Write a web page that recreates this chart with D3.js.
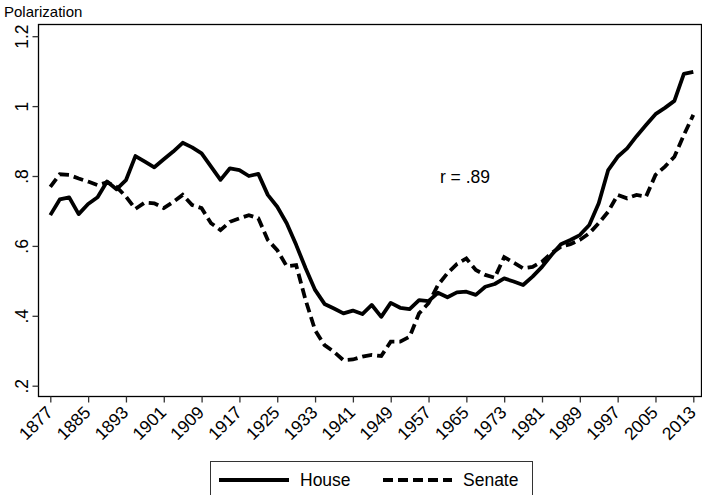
<!DOCTYPE html>
<html>
<head>
<meta charset="utf-8">
<script src="https://cdn.jsdelivr.net/npm/d3@7"></script>
<style>
  body { margin: 0; background: #fff; }
  svg { display: block; }
  svg text { font-family: "Liberation Sans", Arial, sans-serif; }
</style>
</head>
<body>
  <script>
    // congress start years, every two years
    const years = d3.range(1877, 2015, 2);

    const house = [
      .688, .733, .739, .691, .720, .739, .784, .762, .788, .857, .841, .825,
      .848, .870, .895, .882, .865, .827, .789, .822, .817, .800,
      .806, .746, .712, .665, .603, .536, .474, .434, .421, .407,
      .415, .405, .431, .397, .437, .423, .419, .445, .442, .466,
      .453, .467, .469, .460, .483, .491, .507, .498, .488, .512,
      .540, .574, .605, .617, .631, .660, .722, .817, .855, .879,
      .914, .946, .977, .995, 1.015, 1.092, 1.098
    ];

    const senate = [
      .769, .805, .803, .793, .784, .774, .782, .769, .741, .706, .724, .722,
      .708, .726, .746, .717, .708, .665, .645, .669, .679, .688,
      .679, .617, .588, .542, .545, .445, .359, .316, .297, .273,
      .275, .283, .288, .285, .326, .326, .340, .407, .436, .488,
      .522, .548, .564, .531, .517, .509, .568, .552, .536, .540,
      .555, .579, .598, .605, .617, .636, .665, .698, .746, .736,
      .746, .741, .803, .827, .855, .917, .975
    ];

    const xTicks = d3.range(1877, 2014, 8);
    const yTicks = [.2, .4, .6, .8, 1, 1.2];

    const w = 702, h = 495;
    const L = 38.5, R = 701.5, T = 24.5, B = 396.5;

    const svg = d3.select("body").append("svg")
      .attr("width", w)
      .attr("height", h);

    const xScale = d3.scaleLinear().domain([1877, 2013]).range([50.3, 693.3]);
    const yScale = d3.scaleLinear().domain([.2, 1.2]).range([385.7, 36.2]);

    // plot frame
    svg.append("rect")
      .attr("x", L).attr("y", T)
      .attr("width", R - L).attr("height", B - T)
      .attr("fill", "none").attr("stroke", "#000").attr("stroke-width", 1.3);

    // x axis
    const xAxis = svg.append("g")
      .attr("transform", `translate(0,${B})`)
      .call(d3.axisBottom(xScale).tickValues(xTicks).tickFormat(d3.format("d")).tickSize(6));
    xAxis.attr("font-family", null).attr("font-size", null);
    xAxis.select(".domain").remove();
    xAxis.selectAll("line").attr("stroke", "#333").attr("stroke-width", 1.3);
    xAxis.selectAll("text")
      .attr("font-size", 17.5)
      .attr("fill", "#000")
      .attr("text-anchor", "end")
      .attr("x", 0).attr("y", 0).attr("dy", 0)
      .attr("transform", "translate(3,17) rotate(-45)");

    // y axis
    const fmt = d => d === 1 ? "1" : d3.format(".1f")(d).replace(/^0/, "");
    const yAxis = svg.append("g")
      .attr("transform", `translate(${L},0)`)
      .call(d3.axisLeft(yScale).tickValues(yTicks).tickFormat(fmt).tickSize(6));
    yAxis.attr("font-family", null).attr("font-size", null);
    yAxis.select(".domain").remove();
    yAxis.selectAll("line").attr("stroke", "#333").attr("stroke-width", 1.3);
    yAxis.selectAll("text")
      .attr("font-size", 17.5)
      .attr("fill", "#000")
      .attr("text-anchor", "middle")
      .attr("x", 0).attr("dy", 0)
      .attr("transform", "translate(-11,0) rotate(-90)");

    svg.append("text")
      .attr("x", 4).attr("y", 17)
      .attr("font-size", 15)
      .text("Polarization");

    const line = d3.line()
      .x((d, i) => xScale(years[i]))
      .y(d => yScale(d));

    svg.append("path")
      .datum(house)
      .attr("d", line)
      .attr("fill", "none").attr("stroke", "#000")
      .attr("stroke-width", 3.8).attr("stroke-linejoin", "round");

    svg.append("path")
      .datum(senate)
      .attr("d", line)
      .attr("fill", "none").attr("stroke", "#000")
      .attr("stroke-width", 3.8)
      .attr("stroke-dasharray", "10,5");

    svg.append("text")
      .attr("x", xScale(1959.4)).attr("y", yScale(.78))
      .attr("font-size", 17.5)
      .text("r = .89");

    // legend
    const lg = svg.append("g");
    lg.append("rect")
      .attr("x", 210.5).attr("y", 461.5)
      .attr("width", 322).attr("height", 50)
      .attr("fill", "#fff").attr("stroke", "#333").attr("stroke-width", 1);
    lg.append("line")
      .attr("x1", 219).attr("x2", 289).attr("y1", 480).attr("y2", 480)
      .attr("stroke", "#000").attr("stroke-width", 3.8);
    lg.append("text").attr("x", 300).attr("y", 486).attr("font-size", 17.5).text("House");
    lg.append("line")
      .attr("x1", 383).attr("x2", 452).attr("y1", 480).attr("y2", 480)
      .attr("stroke", "#000").attr("stroke-width", 3.8).attr("stroke-dasharray", "10,5");
    lg.append("text").attr("x", 463).attr("y", 486).attr("font-size", 17.5).text("Senate");
  </script>
</body>
</html>
